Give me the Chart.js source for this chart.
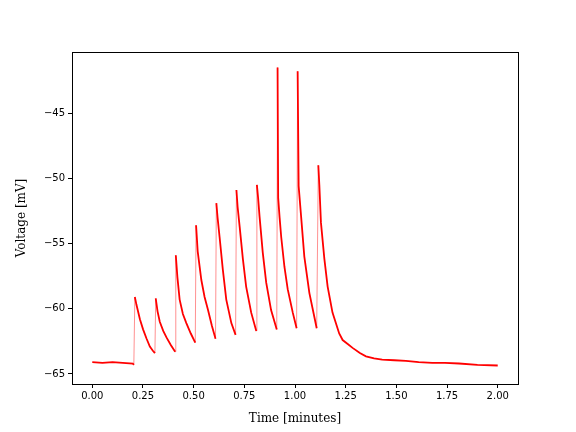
<!DOCTYPE html>
<html>
<head>
<meta charset="utf-8">
<script src="https://cdn.jsdelivr.net/npm/chart.js@4/dist/chart.umd.min.js"></script>
<style>
  html, body { margin: 0; padding: 0; background: #fff; }
  #wrap { width: 576px; height: 432px; }
</style>
</head>
<body>
<div id="wrap"><canvas id="c" width="576" height="432"></canvas></div>
<script>
// Time in minutes
const times = [
  0.00, 0.05, 0.10, 0.15, 0.20, 0.205,
  0.21, 0.218, 0.235, 0.251, 0.268, 0.284, 0.298, 0.309,
  0.313, 0.322, 0.333, 0.35, 0.366, 0.388, 0.409,
  0.412, 0.42, 0.431, 0.447, 0.464, 0.486, 0.508,
  0.512, 0.52, 0.538, 0.554, 0.571, 0.59, 0.608,
  0.612, 0.618, 0.628, 0.644, 0.661, 0.686, 0.707,
  0.711, 0.717, 0.727, 0.743, 0.759, 0.784, 0.809,
  0.812, 0.818, 0.825, 0.841, 0.858, 0.882, 0.91,
  0.914, 0.917, 0.924, 0.932, 0.948, 0.964, 0.989, 1.008,
  1.013, 1.018, 1.03, 1.046, 1.071, 1.095, 1.107,
  1.115, 1.12, 1.128, 1.145, 1.161, 1.185, 1.218, 1.235, 1.26, 1.284,
  1.32, 1.35, 1.39, 1.43, 1.49, 1.547, 1.61, 1.677, 1.74, 1.809, 1.9, 2.0
];
// Voltage in mV
const volts = [
  -64.1, -64.15, -64.1, -64.15, -64.2, -64.3,
  -59.1, -59.7, -60.8, -61.6, -62.3, -62.9, -63.2, -63.4,
  -59.2, -60.2, -61.0, -61.7, -62.2, -62.8, -63.3,
  -55.9, -57.6, -59.3, -60.4, -61.1, -61.9, -62.6,
  -53.6, -55.6, -57.8, -59.1, -60.1, -61.3, -62.3,
  -51.9, -53.0, -54.5, -57.0, -59.3, -61.1, -62.0,
  -50.9, -52.2, -53.7, -56.2, -58.3, -60.3, -61.7,
  -50.5, -51.5, -52.9, -55.7, -58.0, -60.1, -61.6,
  -41.5, -51.5, -53.0, -54.5, -56.8, -58.5, -60.3, -61.5,
  -41.8, -50.6, -52.9, -56.0, -58.8, -60.6, -61.5,
  -49.0, -50.5, -53.4, -56.2, -58.3, -60.3, -61.9, -62.4, -62.7, -63.0,
  -63.4, -63.65, -63.8, -63.9, -63.95, -64.0, -64.1, -64.15, -64.15, -64.2, -64.3, -64.35
];
const xTicks = [0, 0.25, 0.5, 0.75, 1.0, 1.25, 1.5, 1.75, 2.0];
const yTicks = [-65, -60, -55, -50, -45];
const xLabel = 'Time [minutes]';
const yLabel = 'Voltage [mV]';

const points = times.map((t, i) => ({x: t, y: volts[i]}));
const minus = v => (v < 0 ? '\u2212' + Math.abs(v) : String(v));

const framePlugin = {
  id: 'frame',
  afterDraw(chart) {
    const {ctx, chartArea: a} = chart;
    ctx.save();
    ctx.strokeStyle = '#000';
    ctx.lineWidth = 1;
    ctx.strokeRect(Math.round(a.left) + 0.5, Math.round(a.top) + 0.5,
                   Math.round(a.right - a.left), Math.round(a.bottom - a.top));
    ctx.restore();
  }
};

new Chart(document.getElementById('c'), {
  type: 'scatter',
  data: {
    datasets: [{
      data: points,
      showLine: true,
      borderColor: '#ff0000',
      borderWidth: 1.8,
      pointRadius: 0,
      tension: 0,
      segment: {
        borderWidth: c => (c.p1.parsed.y > c.p0.parsed.y + 1.5 ? 0.8 : undefined),
        borderColor: c => (c.p1.parsed.y > c.p0.parsed.y + 1.5 ? 'rgba(255,0,0,0.55)' : undefined)
      }
    }]
  },
  options: {
    responsive: false,
    animation: false,
    devicePixelRatio: 1,
    layout: { padding: { left: 0, top: 52, right: 58, bottom: 0 } },
    plugins: { legend: { display: false }, tooltip: { enabled: false } },
    scales: {
      x: {
        type: 'linear',
        min: -0.1, max: 2.1,
        afterBuildTicks: s => { s.ticks = xTicks.map(v => ({value: v})); },
        afterFit: s => { s.height = 48; },
        grid: { drawOnChartArea: false, drawTicks: true, tickLength: 4, color: '#000' },
        border: { display: true, color: '#000' },
        ticks: {
          color: '#000', padding: 2, maxRotation: 0, autoSkip: false,
          font: { family: 'DejaVu Sans', size: 10 },
          callback: v => v.toFixed(2)
        },
        title: {
          display: true, text: xLabel, color: '#000',
          font: { family: 'DejaVu Serif', size: 12 },
          padding: { top: 0, bottom: 6 }
        }
      },
      y: {
        type: 'linear',
        min: -65.77, max: -40.32,
        afterBuildTicks: s => { s.ticks = yTicks.map(v => ({value: v})); },
        afterFit: s => { s.width = 72; },
        grid: { drawOnChartArea: false, drawTicks: true, tickLength: 4, color: '#000' },
        border: { display: true, color: '#000' },
        ticks: {
          color: '#000', padding: 3, autoSkip: false,
          font: { family: 'DejaVu Sans', size: 10 },
          callback: v => minus(v)
        },
        title: {
          display: true, text: yLabel, color: '#000',
          font: { family: 'DejaVu Serif', size: 12 },
          padding: { top: 15, bottom: 0 }
        }
      }
    }
  },
  plugins: [framePlugin]
});
</script>
</body>
</html>
